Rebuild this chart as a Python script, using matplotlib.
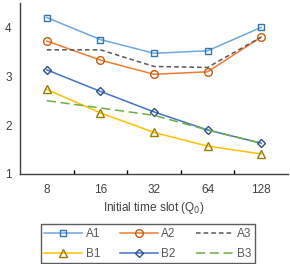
import matplotlib.pyplot as plt
from matplotlib.ticker import FixedLocator

plt.rcParams['font.family'] = ['Liberation Sans', 'DejaVu Sans']

# valores
slots = ["8", "16", "32", "64", "128"]
a1 = [4.20, 3.75, 3.47, 3.52, 4.00]
a2 = [3.72, 3.33, 3.04, 3.09, 3.80]
a3 = [3.54, 3.54, 3.20, 3.18, 3.80]
b1 = [2.73, 2.25, 1.85, 1.57, 1.41]
b2 = [3.13, 2.69, 2.27, 1.90, 1.63]
b3 = [2.50, 2.35, 2.20, 1.90, 1.63]

x = list(range(len(slots)))
fig = plt.figure(figsize=(2.9, 2.64), dpi=100)
ax = fig.add_axes([0.069, 0.341, 0.924, 0.648])

ms = 5
la1, = ax.plot(x, a1, color="#6FA8DC", lw=1.1, marker="s", ms=ms, mfc="none", mec="#2E75B6", mew=1.0, label="A1")
la2, = ax.plot(x, a2, color="#ED7D31", lw=1.1, marker="o", ms=ms + 0.5, mfc="none", mec="#C55A11", mew=1.0, label="A2")
la3, = ax.plot(x, a3, color="#595959", lw=1.1, ls=(0, (3, 2)), label="A3")
lb1, = ax.plot(x, b1, color="#FFC000", lw=1.1, marker="^", ms=ms + 0.5, mfc="none", mec="#9C7A00", mew=1.0, label="B1")
lb2, = ax.plot(x, b2, color="#4472C4", lw=1.1, marker="D", ms=ms - 0.5, mfc="none", mec="#2F4E8C", mew=1.0, label="B2")
lb3, = ax.plot(x, b3, color="#70AD47", lw=1.1, ls=(0, (6, 3)), label="B3")

ax.set_xlim(-0.5, 4.5)
ax.set_ylim(1, 4.5)
ax.set_xticks(x)
ax.set_xticklabels(slots)
ax.xaxis.set_minor_locator(FixedLocator([0.5, 1.5, 2.5, 3.5]))
ax.tick_params(axis="x", which="major", length=0, labelsize=8.5, labelcolor="#404040", pad=7)
ax.tick_params(axis="x", which="minor", length=3, direction="in", width=1)
ax.set_yticks([1, 2, 3, 4])
ax.tick_params(axis="y", length=0, labelsize=8.5, labelcolor="#404040", pad=6)
for s in ["top", "right"]:
    ax.spines[s].set_visible(False)
for s in ["left", "bottom"]:
    ax.spines[s].set_color("#404040")
    ax.spines[s].set_linewidth(1.0)

ax.set_xlabel("Initial time slot (Q$_0$)", fontsize=8.5, color="#404040", labelpad=3)

# ordem por colunas para ficar A1 A2 A3 / B1 B2 B3
handles = [la1, lb1, la2, lb2, la3, lb3]
leg = fig.legend(handles=handles, labels=[h.get_label() for h in handles],
                 loc="upper center", bbox_to_anchor=(0.510, 0.172), ncol=3, fontsize=8.5,
                 frameon=True, fancybox=False, edgecolor="#333333", handlelength=3.2,
                 columnspacing=1.7, handletextpad=0.3, borderpad=0.3, labelspacing=0.65)
leg.get_frame().set_linewidth(1.0)
for t in leg.get_texts():
    t.set_color("#595959")

fig.savefig("out.png", dpi=100)
